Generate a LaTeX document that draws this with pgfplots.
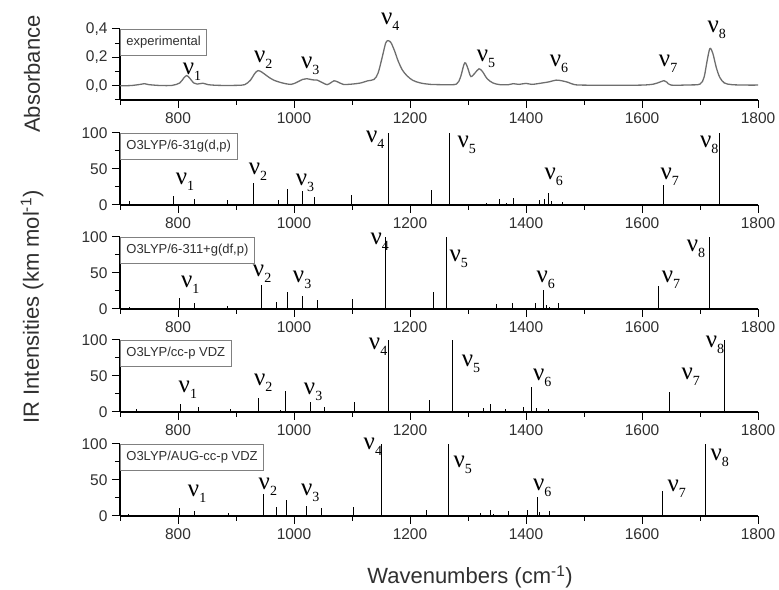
\documentclass[border=0pt]{standalone}
\usepackage{fontspec}
\setmainfont{Liberation Sans}
\newfontfamily\serif{Liberation Serif}
\usepackage{pgfplots}
\pgfplotsset{compat=1.18}
\definecolor{txt}{HTML}{303030}
\definecolor{spec}{HTML}{6E6E6E}
\newcommand{\nl}[1]{{\serif\fontsize{25}{25}\selectfont ν}\raisebox{-6pt}{\serif\fontsize{14}{14}\selectfont #1}}
\tikzset{lab/.style={font=\fontsize{13}{13}\selectfont, text=txt, draw=gray, fill=white, line width=0.8pt, anchor=north west, inner xsep=6pt, minimum height=26pt}}
\pgfplotsset{panel/.style={scale only axis, width=638pt, height=72pt, xmin=700, xmax=1800,
  axis lines*=left, tick align=outside, xtick={800,1000,...,1800}, minor xtick={700,900,...,1700},
  major tick length=8pt, minor tick length=5pt, clip=false,
  axis line style={line width=1.1pt, black},
  every tick/.style={line width=1pt, black},
  ticklabel style={font=\fontsize{15.5}{15.5}\selectfont, text=txt},
  /pgf/number format/assume math mode=true, scaled ticks=false,
  xticklabel style={/pgf/number format/1000 sep={}, yshift=-1pt},
  yticklabel style={xshift=-1pt}},
  stick/.style={ycomb, line width=0.9pt, black, no marks},
  ir/.style={panel, ymin=0, ymax=100, ytick={0,50,100}, minor ytick={25,75}}}
\begin{document}
\begin{tikzpicture}[x=1pt,y=1pt]
\useasboundingbox (0,0) rectangle (779,589);
% ---------- experimental ----------
\begin{axis}[panel, at={(120pt,489pt)}, anchor=south west, height=71pt,
  ymin=-0.1, ymax=0.4, ytick={0,0.2,0.4}, yticklabels={{0,0},{0,2},{0,4}}, minor ytick={-0.1,0.1,0.3}]
\addplot[spec, line width=1.3pt, smooth, no marks] table {
700 0.0
720 0.002
735 0.01
742 0.015
750 0.008
770 0.002
790 0.003
803 0.02
810 0.055
815 0.072
820 0.055
827 0.02
833 0.012
843 0.018
852 0.008
870 0.003
900 0.003
915 0.008
925 0.04
932 0.085
938 0.107
945 0.095
955 0.065
965 0.04
980 0.02
995 0.01
1005 0.025
1015 0.045
1022 0.05
1032 0.042
1040 0.04
1050 0.02
1057 0.008
1063 0.02
1069 0.035
1075 0.028
1085 0.01
1100 0.012
1115 0.02
1127 0.035
1138 0.045
1145 0.09
1152 0.2
1158 0.3
1162 0.318
1167 0.305
1173 0.25
1180 0.17
1187 0.11
1195 0.07
1205 0.038
1218 0.02
1235 0.01
1260 0.008
1280 0.012
1287 0.06
1293 0.15
1296 0.16
1300 0.12
1305 0.065
1312 0.09
1319 0.12
1325 0.1
1333 0.05
1343 0.02
1355 0.008
1370 0.008
1378 0.015
1388 0.01
1400 0.017
1410 0.01
1425 0.018
1440 0.028
1452 0.04
1462 0.035
1472 0.025
1482 0.01
1495 0.005
1550 0.004
1600 0.005
1620 0.012
1632 0.028
1638 0.036
1643 0.025
1650 0.005
1680 0.006
1700 0.012
1707 0.06
1712 0.17
1717 0.262
1722 0.23
1728 0.13
1734 0.06
1742 0.02
1755 0.008
1780 0.005
1800 0.005
};
\node[lab] at (rel axis cs:0,1) {experimental};
\node at (axis cs:824,0.10) {\nl{1}};
\node at (axis cs:947,0.186) {\nl{2}};
\node at (axis cs:1028,0.143) {\nl{3}};
\node at (axis cs:1166,0.45) {\nl{4}};
\node at (axis cs:1331,0.193) {\nl{5}};
\node at (axis cs:1457,0.157) {\nl{6}};
\node at (axis cs:1645,0.157) {\nl{7}};
\node at (axis cs:1729,0.393) {\nl{8}};
\end{axis}
% ---------- 6-31g(d,p) ----------
\begin{axis}[ir, at={(120pt,384pt)}, anchor=south west]
\addplot[stick] table {
717 5.6
793 12.6
828 8.4
885 7
930 31
973 7
988 22
1015 19.5
1036 11.6
1099 14
1163 100
1237 21
1268 100
1331 3
1354 8
1367 3
1379 10
1424 6.6
1431 9
1438 17
1444 5.7
1462 4.7
1637 28
1734 100
};
\node[lab] at (rel axis cs:0,1) {O3LYP/6-31g(d,p)};
\node at (axis cs:812,32) {\nl{1}};
\node at (axis cs:938,46) {\nl{2}};
\node at (axis cs:1019,31) {\nl{3}};
\node at (axis cs:1140,90) {\nl{4}};
\node at (axis cs:1298,83) {\nl{5}};
\node at (axis cs:1448,39) {\nl{6}};
\node at (axis cs:1648,39) {\nl{7}};
\node at (axis cs:1716,83) {\nl{8}};
\end{axis}
% ---------- 6-311+g(df,p) ----------
\begin{axis}[ir, at={(120pt,280pt)}, anchor=south west]
\addplot[stick] table {
717 3
803 15
829 9
886 4
924 2
944 34
970 10
988 23
1015 18
1040 12
1101 14
1158 100
1240 23
1262 100
1329 1.5
1349 7
1354 2
1377 9
1416 9
1430 27
1436 6
1441 3
1456 8
1628 32
1717 100
};
\node[lab] at (rel axis cs:0,1) {O3LYP/6-311+g(df,p)};
\node at (axis cs:821,33) {\nl{1}};
\node at (axis cs:945,49) {\nl{2}};
\node at (axis cs:1014,40) {\nl{3}};
\node at (axis cs:1148,93) {\nl{4}};
\node at (axis cs:1284,69) {\nl{5}};
\node at (axis cs:1434,40) {\nl{6}};
\node at (axis cs:1650,40) {\nl{7}};
\node at (axis cs:1693,83) {\nl{8}};
\end{axis}
% ---------- cc-pVDZ ----------
\begin{axis}[ir, at={(120pt,177pt)}, anchor=south west]
\addplot[stick] table {
728 3.7
805 11.6
836 7
891 4.6
938 20
976 3
986 29
1028 14
1053 7
1104 14
1133 2
1163 100
1233 17
1274 100
1300 2
1326 6
1338 11.6
1364 4.6
1395 7
1410 35
1418 5.6
1438 3.7
1647 28
1743 100
};
\node[lab] at (rel axis cs:0,1) {O3LYP/cc-p VDZ};
\node at (axis cs:817,31) {\nl{1}};
\node at (axis cs:947,40) {\nl{2}};
\node at (axis cs:1033,28) {\nl{3}};
\node at (axis cs:1145,90) {\nl{4}};
\node at (axis cs:1305,67) {\nl{5}};
\node at (axis cs:1428,47) {\nl{6}};
\node at (axis cs:1684,49) {\nl{7}};
\node at (axis cs:1726,93) {\nl{8}};
\end{axis}
% ---------- AUG-cc-pVDZ ----------
\begin{axis}[ir, at={(120pt,73pt)}, anchor=south west]
\addplot[stick] table {
714 2.8
802 11.6
829 7
887 3.7
947 30
969 12
987 22
1022 14
1048 10.6
1102 12
1151 100
1229 8
1266 100
1321 4.6
1338 8
1344 2.8
1369 7.4
1402 8
1419 27
1423 6
1441 7.4
1636 35
1709 100
};
\node[lab] at (rel axis cs:0,1) {O3LYP/AUG-cc-p VDZ};
\node at (axis cs:833,31) {\nl{1}};
\node at (axis cs:955,40) {\nl{2}};
\node at (axis cs:1028,32) {\nl{3}};
\node at (axis cs:1136,96) {\nl{4}};
\node at (axis cs:1291,71) {\nl{5}};
\node at (axis cs:1428,39) {\nl{6}};
\node at (axis cs:1660,38) {\nl{7}};
\node at (axis cs:1734,81) {\nl{8}};
\end{axis}
% ---------- axis titles ----------
\node[rotate=90, font=\fontsize{22}{22}\selectfont, text=txt] at (32,515) {Absorbance};
\node[rotate=90, font=\fontsize{22}{22}\selectfont, text=txt] at (32,282) {IR Intensities (km mol\textsuperscript{-1})};
\node[font=\fontsize{22}{22}\selectfont, text=txt] at (470,12) {Wavenumbers (cm\textsuperscript{-1})};
\end{tikzpicture}
\end{document}
